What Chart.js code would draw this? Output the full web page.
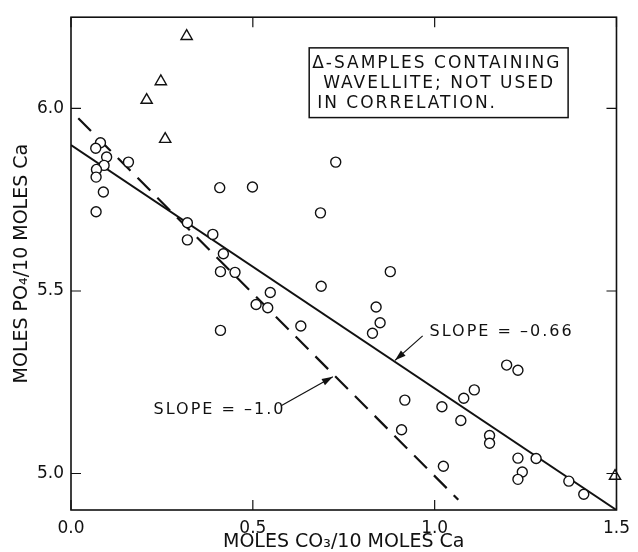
<!DOCTYPE html>
<html>
<head>
<meta charset="utf-8">
<script src="https://cdn.jsdelivr.net/npm/chart.js@4.4.1/dist/chart.umd.min.js"></script>
<style>
  html, body { margin: 0; padding: 0; background: #fff; }
</style>
</head>
<body>
<canvas id="po4-co3-chart" width="638" height="552"></canvas>
<script>
// samples used in the correlation (open circles)
const circleX = [0.081, 0.068, 0.098, 0.158, 0.091, 0.070, 0.069, 0.089, 0.069, 0.320,
                 0.390, 0.320, 0.409, 0.499, 0.419, 0.411, 0.451, 0.548, 0.509, 0.541,
                 0.411, 0.632, 0.728, 0.686, 0.878, 0.688, 0.839, 0.850, 0.829, 1.198,
                 1.229, 1.109, 1.080, 1.020, 1.072, 1.151, 1.151, 1.229, 1.279, 1.241,
                 1.229, 1.369, 1.410, 1.024, 0.918, 0.909];
const circleY = [5.906, 5.891, 5.867, 5.853, 5.844, 5.833, 5.812, 5.771, 5.717, 5.687,
                 5.655, 5.640, 5.783, 5.785, 5.602, 5.553, 5.551, 5.496, 5.463, 5.454,
                 5.392, 5.404, 5.853, 5.714, 5.553, 5.513, 5.456, 5.413, 5.384, 5.297,
                 5.283, 5.229, 5.206, 5.183, 5.145, 5.104, 5.083, 5.042, 5.041, 5.004,
                 4.984, 4.979, 4.943, 5.020, 5.201, 5.120];

// wavellite samples (triangles)
const triangleX = [0.318, 0.247, 0.208, 0.259, 1.496];
const triangleY = [6.198, 6.074, 6.023, 5.916, 4.993];

// fitted line (slope -0.66) and reference line (slope -1.0)
const fitX = [0.0, 1.5];
const fitY = [5.90, 4.90];
const slopeOneX = [0.02, 1.065];
const slopeOneY = [5.973, 4.928];

const xTicks = [0.0, 0.5, 1.0, 1.5];
const yTicks = [5.0, 5.5, 6.0];

const legendLines = ['\u0394-SAMPLES CONTAINING', 'WAVELLITE; NOT USED', 'IN CORRELATION.'];

const ink = '#111';
const font = 'DejaVu Sans';

const toPoints = (xs, ys) => xs.map((v, i) => ({ x: v, y: ys[i] }));

function arrow(ctx, x1, y1, x2, y2) {
  ctx.beginPath();
  ctx.moveTo(x1, y1);
  ctx.lineTo(x2, y2);
  ctx.stroke();
  const ang = Math.atan2(y2 - y1, x2 - x1);
  const len = 11, half = 3.5;
  ctx.beginPath();
  ctx.moveTo(x2, y2);
  ctx.lineTo(x2 - len * Math.cos(ang) + half * Math.sin(ang), y2 - len * Math.sin(ang) - half * Math.cos(ang));
  ctx.lineTo(x2 - len * Math.cos(ang) - half * Math.sin(ang), y2 - len * Math.sin(ang) + half * Math.cos(ang));
  ctx.closePath();
  ctx.fill();
}

const decorations = {
  id: 'decorations',
  afterDatasetsDraw(chart) {
    const { ctx, chartArea: a, scales: { x, y } } = chart;
    ctx.save();
    ctx.strokeStyle = ink;
    ctx.fillStyle = ink;
    ctx.lineWidth = 1.6;
    ctx.strokeRect(a.left, a.top, a.right - a.left, a.bottom - a.top);

    // inward ticks on all four sides
    ctx.lineWidth = 1.2;
    ctx.beginPath();
    xTicks.forEach(v => {
      const px = x.getPixelForValue(v);
      ctx.moveTo(px, a.bottom); ctx.lineTo(px, a.bottom - 10);
      ctx.moveTo(px, a.top); ctx.lineTo(px, a.top + 10);
    });
    yTicks.forEach(v => {
      const py = y.getPixelForValue(v);
      ctx.moveTo(a.left, py); ctx.lineTo(a.left + 10, py);
      ctx.moveTo(a.right, py); ctx.lineTo(a.right - 10, py);
    });
    ctx.stroke();

    // legend note box
    const bx1 = x.getPixelForValue(0.655), bx2 = x.getPixelForValue(1.367);
    const by1 = y.getPixelForValue(6.166), by2 = y.getPixelForValue(5.975);
    ctx.lineWidth = 1.5;
    ctx.strokeRect(bx1, by1, bx2 - bx1, by2 - by1);
    ctx.font = '17px "' + font + '"';
    ctx.letterSpacing = '2px';
    ctx.textBaseline = 'middle';
    ctx.textAlign = 'left';
    const offsets = [3, 14, 8];
    legendLines.forEach((t, i) => {
      ctx.fillText(t, bx1 + offsets[i], by1 + 16 + i * 20);
    });

    // slope annotations
    ctx.font = '16px "' + font + '"';
    ctx.fillText('SLOPE = \u20130.66', x.getPixelForValue(0.986), y.getPixelForValue(5.387));
    ctx.fillText('SLOPE = \u20131.0', x.getPixelForValue(0.227), y.getPixelForValue(5.175));

    ctx.lineWidth = 1.2;
    arrow(ctx, x.getPixelForValue(0.967), y.getPixelForValue(5.377),
               x.getPixelForValue(0.891), y.getPixelForValue(5.310));
    arrow(ctx, x.getPixelForValue(0.579), y.getPixelForValue(5.186),
               x.getPixelForValue(0.720), y.getPixelForValue(5.265));
    ctx.restore();
  }
};

const canvas = document.querySelector('#po4-co3-chart');

let config = {
  type: 'scatter',
  data: {
    datasets: [
      {
        label: 'Samples',
        data: toPoints(circleX, circleY),
        pointStyle: 'circle',
        pointRadius: 5,
        pointBorderWidth: 1.4,
        pointBorderColor: ink,
        pointBackgroundColor: '#fff',
        order: 1,
      },
      {
        label: 'Wavellite samples',
        data: toPoints(triangleX, triangleY),
        pointStyle: 'triangle',
        pointRadius: 6.5,
        pointBorderWidth: 1.4,
        pointBorderColor: ink,
        pointBackgroundColor: '#fff',
        clip: false,
        order: 1,
      },
      {
        label: 'Slope -0.66',
        data: toPoints(fitX, fitY),
        showLine: true,
        borderColor: ink,
        borderWidth: 2,
        pointRadius: 0,
        order: 2,
      },
      {
        label: 'Slope -1.0',
        data: toPoints(slopeOneX, slopeOneY),
        showLine: true,
        borderColor: ink,
        borderWidth: 2.2,
        borderDash: [18, 10],
        pointRadius: 0,
        order: 2,
      },
    ],
  },
  options: {
    responsive: false,
    devicePixelRatio: 1,
    animation: false,
    layout: { padding: { top: 13, right: 13, left: 0, bottom: 0 } },
    plugins: {
      legend: { display: false },
      tooltip: { enabled: false },
    },
    scales: {
      x: {
        type: 'linear',
        min: 0,
        max: 1.5,
        afterBuildTicks: s => { s.ticks = xTicks.map(v => ({ value: v })); },
        afterFit: s => { s.height = 42; },
        grid: { display: false, drawTicks: false },
        border: { display: false },
        ticks: {
          padding: 8,
          color: ink,
          font: { family: font, size: 17 },
          callback: v => v.toFixed(1),
        },
        title: {
          display: true,
          text: 'MOLES CO\u2083/10 MOLES Ca',
          color: ink,
          font: { family: font, size: 19, lineHeight: 1 },
          padding: { top: 0, bottom: 0 },
        },
      },
      y: {
        type: 'linear',
        min: 4.9,
        max: 6.25,
        afterBuildTicks: s => { s.ticks = yTicks.map(v => ({ value: v })); },
        afterFit: s => { s.width = 71; },
        grid: { display: false, drawTicks: false },
        border: { display: false },
        ticks: {
          padding: 7,
          color: ink,
          font: { family: font, size: 17 },
          callback: v => v.toFixed(1),
        },
        title: {
          display: true,
          text: 'MOLES PO\u2084/10 MOLES Ca',
          color: ink,
          font: { family: font, size: 19, lineHeight: 1 },
          padding: { top: 13, bottom: 0 },
        },
      },
    },
  },
  plugins: [decorations],
};

let chart = new Chart(canvas, config);
</script>
</body>
</html>
